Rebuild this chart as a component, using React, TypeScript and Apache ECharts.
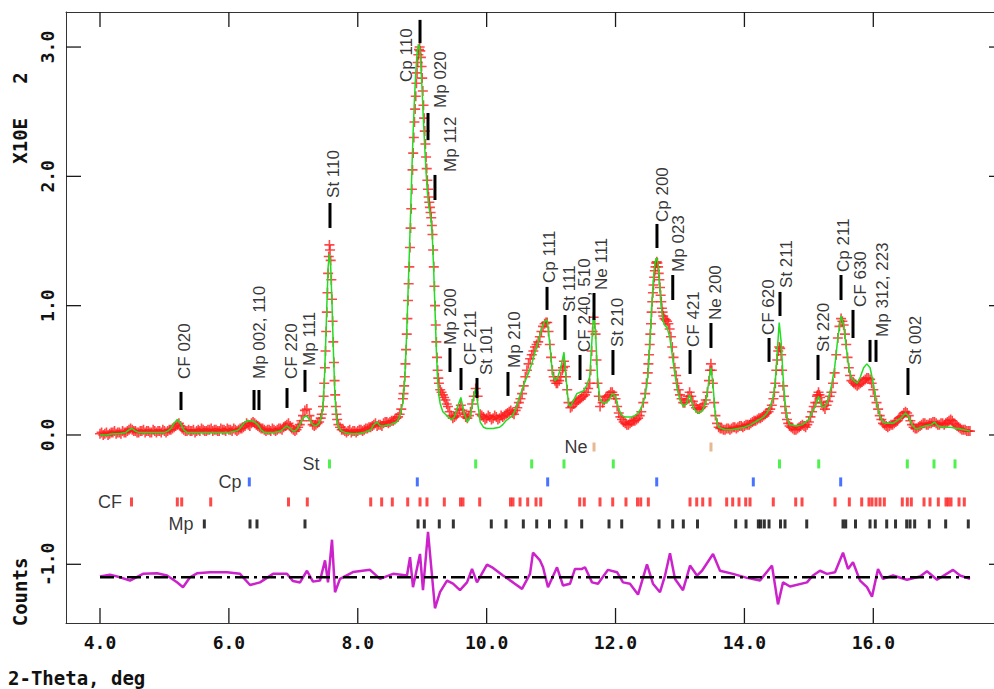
import React, { useEffect, useRef } from 'react';
import * as echarts from 'echarts';

// ---- observed intensities (2-theta, I x100 counts) ----
const obsData: number[][] = [
[4.00,0.01],[4.05,0.00],[4.10,0.02],[4.15,0.01],[4.20,0.02],[4.25,0.01],[4.30,0.02],[4.35,0.03],[4.40,0.02],[4.45,0.04],[4.50,0.04],[4.55,0.03],[4.60,0.02],[4.65,0.03],[4.70,0.02],[4.75,0.03],[4.80,0.02],[4.85,0.03],[4.90,0.03],[4.95,0.02],[5.00,0.03],[5.05,0.03],[5.10,0.04],[5.15,0.06],[5.20,0.08],[5.25,0.07],[5.30,0.04],[5.35,0.03],[5.40,0.03],[5.45,0.04],[5.50,0.03],[5.55,0.03],[5.60,0.04],[5.65,0.03],[5.70,0.04],[5.75,0.03],[5.80,0.04],[5.85,0.03],[5.90,0.04],[5.95,0.03],[6.00,0.04],[6.05,0.03],[6.10,0.04],[6.15,0.04],[6.20,0.05],[6.25,0.07],[6.30,0.08],[6.35,0.09],[6.40,0.09],[6.45,0.07],[6.50,0.05],[6.55,0.04],[6.60,0.04],[6.65,0.03],[6.70,0.04],[6.75,0.04],[6.80,0.05],[6.85,0.06],[6.90,0.08],[6.95,0.07],[7.00,0.04],[7.05,0.04],[7.10,0.08],[7.15,0.15],[7.18,0.19],[7.21,0.20],[7.25,0.15],[7.30,0.08],[7.35,0.08],[7.40,0.10],[7.44,0.16],[7.46,0.22],[7.48,0.40],[7.50,0.65],[7.52,0.95],[7.54,1.25],[7.56,1.47],[7.58,1.35],[7.60,1.05],[7.62,0.72],[7.64,0.42],[7.66,0.22],[7.68,0.12],[7.70,0.08],[7.75,0.04],[7.80,0.03],[7.85,0.03],[7.90,0.02],[7.95,0.03],[8.00,0.03],[8.05,0.04],[8.10,0.04],[8.15,0.05],[8.20,0.06],[8.25,0.08],[8.30,0.07],[8.35,0.08],[8.40,0.09],[8.45,0.10],[8.50,0.10],[8.55,0.11],[8.60,0.13],[8.65,0.16],[8.70,0.28],[8.72,0.38],[8.74,0.55],[8.76,0.78],[8.78,1.04],[8.80,1.30],[8.82,1.60],[8.84,1.90],[8.86,2.18],[8.88,2.42],[8.90,2.62],[8.92,2.80],[8.94,2.94],[8.96,3.00],[8.98,2.92],[9.00,2.76],[9.02,2.55],[9.04,2.35],[9.06,2.15],[9.08,1.97],[9.10,1.84],[9.12,1.76],[9.14,1.68],[9.16,1.55],[9.18,1.30],[9.20,1.00],[9.22,0.72],[9.24,0.50],[9.26,0.40],[9.28,0.35],[9.32,0.31],[9.36,0.27],[9.40,0.22],[9.45,0.15],[9.50,0.14],[9.55,0.17],[9.60,0.23],[9.65,0.16],[9.70,0.13],[9.75,0.18],[9.80,0.30],[9.83,0.36],[9.86,0.30],[9.90,0.16],[9.95,0.14],[10.00,0.13],[10.05,0.14],[10.10,0.13],[10.15,0.14],[10.20,0.13],[10.25,0.14],[10.30,0.16],[10.35,0.18],[10.40,0.17],[10.45,0.19],[10.50,0.25],[10.55,0.32],[10.60,0.45],[10.65,0.55],[10.70,0.62],[10.75,0.68],[10.80,0.72],[10.85,0.80],[10.90,0.86],[10.94,0.87],[10.98,0.70],[11.02,0.50],[11.06,0.42],[11.10,0.40],[11.15,0.45],[11.20,0.57],[11.23,0.45],[11.27,0.25],[11.30,0.21],[11.35,0.24],[11.40,0.26],[11.45,0.28],[11.50,0.30],[11.55,0.33],[11.60,0.40],[11.63,0.65],[11.66,0.91],[11.69,0.78],[11.72,0.40],[11.76,0.22],[11.80,0.25],[11.85,0.29],[11.90,0.31],[11.95,0.33],[12.00,0.28],[12.05,0.17],[12.10,0.12],[12.15,0.09],[12.20,0.08],[12.25,0.10],[12.30,0.11],[12.35,0.13],[12.40,0.18],[12.46,0.32],[12.50,0.48],[12.52,0.62],[12.54,0.78],[12.56,0.95],[12.58,1.10],[12.60,1.22],[12.62,1.30],[12.64,1.34],[12.66,1.30],[12.68,1.20],[12.70,1.08],[12.72,0.98],[12.74,0.92],[12.76,0.90],[12.78,0.89],[12.80,0.88],[12.84,0.82],[12.88,0.68],[12.92,0.52],[12.96,0.40],[13.00,0.31],[13.05,0.25],[13.10,0.27],[13.15,0.33],[13.20,0.26],[13.25,0.21],[13.30,0.20],[13.35,0.22],[13.40,0.27],[13.45,0.42],[13.48,0.55],[13.51,0.40],[13.55,0.15],[13.60,0.06],[13.65,0.05],[13.70,0.04],[13.75,0.05],[13.80,0.05],[13.85,0.06],[13.90,0.06],[13.95,0.07],[14.00,0.07],[14.05,0.08],[14.10,0.09],[14.15,0.11],[14.20,0.12],[14.25,0.13],[14.30,0.15],[14.35,0.17],[14.40,0.20],[14.45,0.28],[14.48,0.40],[14.51,0.58],[14.54,0.68],[14.57,0.62],[14.60,0.38],[14.63,0.22],[14.66,0.12],[14.70,0.07],[14.75,0.05],[14.80,0.04],[14.85,0.06],[14.90,0.08],[14.95,0.06],[15.00,0.10],[15.05,0.18],[15.10,0.25],[15.15,0.33],[15.20,0.25],[15.25,0.20],[15.30,0.26],[15.35,0.33],[15.40,0.48],[15.45,0.75],[15.50,0.90],[15.54,0.85],[15.58,0.70],[15.62,0.52],[15.66,0.42],[15.70,0.40],[15.75,0.38],[15.80,0.40],[15.85,0.42],[15.90,0.44],[15.95,0.43],[16.00,0.35],[16.05,0.25],[16.10,0.15],[16.15,0.09],[16.20,0.07],[16.25,0.07],[16.30,0.08],[16.35,0.10],[16.40,0.13],[16.45,0.15],[16.50,0.18],[16.55,0.15],[16.60,0.08],[16.65,0.05],[16.70,0.06],[16.75,0.08],[16.80,0.09],[16.85,0.08],[16.90,0.09],[16.95,0.10],[17.00,0.08],[17.05,0.09],[17.10,0.08],[17.15,0.10],[17.20,0.12],[17.25,0.09],[17.30,0.07],[17.35,0.05],[17.40,0.04],[17.45,0.03],[17.50,0.03]
];

// observed points read between the ones above (the data are dense)
const obsMidData: number[][] = [
[4.025,0.02],[4.075,0.01],[4.125,0.00],[4.175,0.02],[4.225,0.03],[4.275,0.02],[4.325,0.01],[4.375,0.02],[4.425,0.03],[4.475,0.05],[4.525,0.03],[4.575,0.02],[4.625,0.03],[4.675,0.04],[4.725,0.03],[4.775,0.02],[4.825,0.04],[4.875,0.02],[4.925,0.03],[4.975,0.04],[5.025,0.02],[5.075,0.04],[5.125,0.05],[5.175,0.07],[5.225,0.09],[5.275,0.05],[5.325,0.03],[5.375,0.04],[5.425,0.03],[5.475,0.02],[5.525,0.04],[5.575,0.05],[5.625,0.03],[5.675,0.04],[5.725,0.05],[5.775,0.04],[5.825,0.03],[5.875,0.05],[5.925,0.04],[5.975,0.05],[6.025,0.04],[6.075,0.05],[6.125,0.03],[6.175,0.05],[6.225,0.06],[6.275,0.09],[6.325,0.07],[6.375,0.10],[6.425,0.08],[6.475,0.06],[6.525,0.05],[6.575,0.03],[6.625,0.04],[6.675,0.05],[6.725,0.03],[6.775,0.05],[6.825,0.04],[6.875,0.07],[6.925,0.09],[6.975,0.05],[7.025,0.03],[7.075,0.06],[7.125,0.11],[7.275,0.11],[7.325,0.07],[7.375,0.09],[7.425,0.13],[7.47,0.30],[7.49,0.52],[7.51,0.80],[7.53,1.10],[7.55,1.38],[7.57,1.43],[7.59,1.20],[7.61,0.88],[7.63,0.56],[7.65,0.31],[7.67,0.16],[7.725,0.06],[7.775,0.04],[7.825,0.02],[7.875,0.04],[7.925,0.03],[7.975,0.02],[8.025,0.04],[8.075,0.03],[8.125,0.05],[8.175,0.06],[8.225,0.07],[8.275,0.09],[8.325,0.08],[8.375,0.07],[8.425,0.10],[8.475,0.09],[8.525,0.11],[8.575,0.12],[8.625,0.14],[8.675,0.20],[8.71,0.32],[8.73,0.45],[8.75,0.66],[8.77,0.90],[8.79,1.17],[8.81,1.45],[8.83,1.75],[8.85,2.05],[8.87,2.30],[8.89,2.52],[8.91,2.72],[8.93,2.88],[8.95,2.98],[8.97,2.97],[8.99,2.85],[9.01,2.66],[9.03,2.45],[9.05,2.25],[9.07,2.06],[9.09,1.90],[9.11,1.80],[9.13,1.72],[9.15,1.62],[9.17,1.43],[9.19,1.15],[9.21,0.85],[9.23,0.60],[9.25,0.44],[9.30,0.33],[9.34,0.29],[9.38,0.24],[9.425,0.18],[9.475,0.13],[9.525,0.15],[9.575,0.20],[9.625,0.19],[9.675,0.14],[9.725,0.15],[9.775,0.24],[9.925,0.15],[9.975,0.12],[10.025,0.15],[10.075,0.12],[10.125,0.15],[10.175,0.12],[10.225,0.15],[10.275,0.15],[10.325,0.17],[10.375,0.19],[10.425,0.16],[10.475,0.21],[10.525,0.28],[10.575,0.38],[10.625,0.50],[10.675,0.59],[10.725,0.65],[10.775,0.70],[10.825,0.76],[10.875,0.84],[10.92,0.87],[10.96,0.80],[11.00,0.60],[11.04,0.45],[11.08,0.40],[11.125,0.42],[11.175,0.50],[11.185,0.52],[11.215,0.53],[11.25,0.35],[11.325,0.22],[11.375,0.25],[11.425,0.27],[11.475,0.29],[11.525,0.31],[11.575,0.36],[11.615,0.50],[11.645,0.80],[11.675,0.86],[11.705,0.58],[11.74,0.30],[11.825,0.27],[11.875,0.30],[11.925,0.33],[11.975,0.31],[12.025,0.22],[12.075,0.14],[12.125,0.10],[12.175,0.08],[12.225,0.09],[12.275,0.11],[12.325,0.12],[12.375,0.15],[12.43,0.25],[12.48,0.40],[12.51,0.55],[12.53,0.70],[12.55,0.86],[12.57,1.03],[12.59,1.16],[12.61,1.27],[12.63,1.33],[12.65,1.33],[12.67,1.25],[12.69,1.14],[12.71,1.03],[12.73,0.95],[12.82,0.86],[12.86,0.76],[12.90,0.60],[12.94,0.46],[12.98,0.35],[13.025,0.28],[13.075,0.25],[13.125,0.30],[13.175,0.30],[13.225,0.23],[13.275,0.20],[13.325,0.21],[13.375,0.24],[13.425,0.33],[13.465,0.50],[13.495,0.50],[13.53,0.25],[13.575,0.09],[13.625,0.05],[13.675,0.04],[13.725,0.05],[13.775,0.04],[13.825,0.06],[13.875,0.05],[13.925,0.07],[13.975,0.06],[14.025,0.08],[14.075,0.08],[14.125,0.10],[14.175,0.11],[14.225,0.13],[14.275,0.14],[14.325,0.16],[14.375,0.18],[14.425,0.23],[14.465,0.33],[14.495,0.50],[14.525,0.65],[14.555,0.67],[14.585,0.50],[14.615,0.30],[14.645,0.17],[14.68,0.09],[14.725,0.06],[14.775,0.04],[14.825,0.05],[14.875,0.07],[14.925,0.07],[14.975,0.08],[15.025,0.14],[15.075,0.22],[15.125,0.30],[15.135,0.31],[15.165,0.31],[15.175,0.29],[15.225,0.22],[15.275,0.23],[15.325,0.30],[15.375,0.40],[15.425,0.62],[15.475,0.84],[15.52,0.88],[15.56,0.78],[15.60,0.60],[15.64,0.46],[15.685,0.41],[15.725,0.39],[15.775,0.39],[15.825,0.41],[15.875,0.43],[15.925,0.44],[15.975,0.40],[16.025,0.30],[16.075,0.20],[16.125,0.12],[16.175,0.08],[16.225,0.06],[16.275,0.08],[16.325,0.09],[16.375,0.11],[16.425,0.14],[16.475,0.17],[16.525,0.17],[16.575,0.11],[16.625,0.06],[16.675,0.05],[16.725,0.07],[16.775,0.09],[16.825,0.08],[16.875,0.09],[16.925,0.10],[16.975,0.09],[17.025,0.08],[17.075,0.09],[17.125,0.09],[17.175,0.11],[17.225,0.11],[17.275,0.08],[17.325,0.06],[17.375,0.04],[17.425,0.04],[17.475,0.03]
];

// ---- calculated profile ----
const calcData: number[][] = [
[4.00,0.00],[4.10,0.00],[4.20,0.01],[4.30,0.01],[4.40,0.02],[4.45,0.04],[4.50,0.05],[4.55,0.03],[4.60,0.02],[4.70,0.02],[4.80,0.02],[4.90,0.02],[5.00,0.02],[5.05,0.03],[5.10,0.05],[5.15,0.09],[5.20,0.12],[5.25,0.09],[5.30,0.04],[5.35,0.02],[5.40,0.02],[5.50,0.02],[5.60,0.02],[5.70,0.02],[5.80,0.02],[5.90,0.02],[6.00,0.02],[6.10,0.03],[6.15,0.04],[6.20,0.07],[6.25,0.10],[6.30,0.11],[6.35,0.11],[6.40,0.10],[6.45,0.08],[6.50,0.04],[6.55,0.02],[6.60,0.02],[6.70,0.02],[6.80,0.03],[6.85,0.05],[6.90,0.07],[6.95,0.05],[7.00,0.03],[7.05,0.04],[7.10,0.08],[7.15,0.13],[7.20,0.15],[7.25,0.12],[7.30,0.08],[7.35,0.07],[7.40,0.09],[7.44,0.15],[7.46,0.22],[7.48,0.40],[7.50,0.68],[7.52,1.00],[7.54,1.30],[7.56,1.40],[7.58,1.30],[7.60,1.02],[7.62,0.68],[7.64,0.38],[7.66,0.18],[7.68,0.10],[7.70,0.06],[7.75,0.03],[7.80,0.02],[7.90,0.01],[8.00,0.01],[8.10,0.02],[8.20,0.04],[8.25,0.08],[8.30,0.10],[8.35,0.07],[8.40,0.07],[8.50,0.08],[8.60,0.10],[8.65,0.14],[8.70,0.25],[8.72,0.36],[8.74,0.55],[8.76,0.80],[8.78,1.10],[8.80,1.40],[8.82,1.72],[8.84,2.05],[8.86,2.35],[8.88,2.60],[8.90,2.80],[8.92,2.95],[8.94,3.02],[8.96,3.00],[8.98,2.85],[9.00,2.65],[9.02,2.42],[9.04,2.22],[9.06,2.03],[9.08,1.88],[9.10,1.78],[9.12,1.72],[9.14,1.65],[9.16,1.50],[9.18,1.25],[9.20,0.95],[9.22,0.65],[9.24,0.42],[9.26,0.30],[9.28,0.24],[9.32,0.18],[9.36,0.16],[9.40,0.14],[9.45,0.12],[9.50,0.14],[9.55,0.22],[9.60,0.29],[9.65,0.17],[9.70,0.10],[9.75,0.15],[9.80,0.30],[9.83,0.36],[9.86,0.25],[9.90,0.10],[9.95,0.06],[10.00,0.05],[10.10,0.05],[10.20,0.06],[10.25,0.08],[10.30,0.11],[10.35,0.13],[10.40,0.15],[10.45,0.20],[10.50,0.28],[10.55,0.35],[10.60,0.42],[10.65,0.48],[10.70,0.55],[10.75,0.64],[10.80,0.72],[10.85,0.82],[10.90,0.88],[10.94,0.89],[10.98,0.70],[11.02,0.48],[11.06,0.42],[11.10,0.44],[11.15,0.52],[11.20,0.64],[11.23,0.45],[11.27,0.24],[11.30,0.22],[11.35,0.27],[11.40,0.32],[11.45,0.33],[11.50,0.34],[11.55,0.38],[11.60,0.45],[11.63,0.70],[11.66,0.95],[11.69,0.80],[11.72,0.45],[11.76,0.27],[11.80,0.25],[11.85,0.25],[11.90,0.27],[11.95,0.32],[12.00,0.30],[12.05,0.20],[12.10,0.15],[12.15,0.14],[12.20,0.14],[12.25,0.14],[12.30,0.15],[12.35,0.17],[12.40,0.21],[12.46,0.30],[12.50,0.45],[12.52,0.60],[12.54,0.78],[12.56,0.98],[12.58,1.15],[12.60,1.28],[12.62,1.35],[12.64,1.37],[12.66,1.32],[12.68,1.20],[12.70,1.05],[12.72,0.95],[12.74,0.88],[12.76,0.85],[12.78,0.84],[12.80,0.83],[12.84,0.76],[12.88,0.62],[12.92,0.47],[12.96,0.35],[13.00,0.27],[13.05,0.22],[13.10,0.24],[13.15,0.31],[13.20,0.22],[13.25,0.18],[13.30,0.17],[13.35,0.19],[13.40,0.25],[13.45,0.42],[13.48,0.52],[13.51,0.40],[13.55,0.15],[13.60,0.06],[13.70,0.04],[13.80,0.04],[13.90,0.05],[14.00,0.06],[14.10,0.08],[14.20,0.11],[14.30,0.14],[14.35,0.17],[14.40,0.22],[14.45,0.30],[14.48,0.42],[14.51,0.65],[14.54,0.87],[14.57,0.72],[14.60,0.45],[14.63,0.26],[14.66,0.14],[14.70,0.08],[14.80,0.07],[14.90,0.08],[15.00,0.12],[15.05,0.18],[15.10,0.22],[15.15,0.30],[15.20,0.22],[15.25,0.22],[15.30,0.28],[15.35,0.38],[15.40,0.52],[15.45,0.75],[15.50,0.92],[15.54,0.85],[15.58,0.68],[15.62,0.52],[15.66,0.44],[15.70,0.42],[15.75,0.40],[15.80,0.45],[15.85,0.52],[15.90,0.55],[15.95,0.52],[16.00,0.40],[16.05,0.25],[16.10,0.15],[16.15,0.10],[16.20,0.09],[16.30,0.09],[16.40,0.12],[16.45,0.14],[16.50,0.17],[16.55,0.14],[16.60,0.08],[16.65,0.05],[16.70,0.05],[16.80,0.07],[16.90,0.08],[16.95,0.10],[17.00,0.07],[17.10,0.06],[17.20,0.06],[17.30,0.05],[17.40,0.04],[17.50,0.03]
];

// ---- difference (obs - calc), drawn about a base line ----
const diffBase = -1.1;
const diffData: number[][] = [
[4.00,0.005],[4.155,0.02],[4.31,0],[4.466,-0.026],[4.667,0.026],[4.885,0.03],[5.04,0.013],[5.195,-0.039],[5.288,-0.077],[5.397,0],[5.505,0.03],[5.707,0.039],[5.971,0.039],[6.173,0.026],[6.328,-0.06],[6.483,-0.04],[6.685,0.026],[6.902,0.026],[6.995,-0.03],[7.104,-0.04],[7.212,0.05],[7.305,-0.034],[7.414,-0.026],[7.492,0.13],[7.538,-0.04],[7.60,0.29],[7.647,-0.116],[7.724,-0.013],[7.926,0.04],[8.19,0.057],[8.345,-0.013],[8.547,0.026],[8.764,0.013],[8.811,0.155],[8.857,-0.077],[8.966,0.18],[9.012,-0.10],[9.09,0.35],[9.198,-0.24],[9.276,-0.116],[9.385,-0.026],[9.478,-0.05],[9.586,-0.10],[9.695,-0.04],[9.773,0.064],[9.85,-0.04],[10.005,0.098],[10.099,0.072],[10.254,0.013],[10.409,-0.04],[10.549,-0.09],[10.673,0.026],[10.719,0.19],[10.828,0.13],[10.875,0.077],[10.952,-0.077],[11.092,0.077],[11.185,-0.064],[11.294,-0.05],[11.371,0.064],[11.48,0.064],[11.526,0.077],[11.635,-0.04],[11.728,-0.05],[11.883,0.057],[12.023,0.039],[12.116,-0.04],[12.224,-0.05],[12.349,-0.134],[12.488,0.10],[12.581,-0.05],[12.69,-0.116],[12.768,0.013],[12.845,0.186],[12.923,-0.013],[13.047,-0.10],[13.156,0.09],[13.264,0.013],[13.342,0.05],[13.513,0.18],[13.621,0.05],[13.823,0.026],[14.04,-0.005],[14.242,-0.026],[14.428,0.09],[14.521,-0.21],[14.599,-0.04],[14.707,-0.072],[14.971,-0.04],[15.064,0.013],[15.173,0.05],[15.282,0.026],[15.406,0.039],[15.53,0.19],[15.608,0.064],[15.685,0.116],[15.794,-0.026],[15.902,-0.077],[15.98,-0.15],[16.073,0.064],[16.15,-0.013],[16.306,0.013],[16.523,-0.02],[16.725,0.005],[16.833,0.046],[16.989,-0.02],[17.237,0.057],[17.346,0.013],[17.501,-0.013]
];

// ---- reflection positions per phase ----
const neRefl = [11.666, 13.481];
const stRefl = [7.561, 9.830, 10.699, 11.200, 11.965, 14.544, 15.153, 16.528, 16.942, 17.268];
const cpRefl = [6.317, 8.924, 10.947, 12.639, 14.138, 15.494];
const cfRefl = [4.489, 5.200, 5.268, 5.718, 6.925, 7.217, 8.201, 8.371, 8.536, 8.775, 8.966, 9.074, 9.343, 9.594, 9.633, 9.892, 10.370, 10.409, 10.518, 10.637, 10.766, 10.839, 11.444, 11.515, 11.759, 11.956, 12.162, 12.341, 12.391, 12.509, 13.156, 13.260, 13.353, 13.466, 13.725, 13.818, 13.916, 14.020, 14.087, 14.448, 14.796, 14.894, 15.406, 15.628, 15.820, 15.933, 15.980, 16.042, 16.104, 16.171, 16.450, 16.528, 16.590, 16.787, 16.880, 17.009, 17.128, 17.164, 17.206, 17.330, 17.412];
const mpRefl = [5.619, 6.328, 6.436, 7.181, 8.935, 9.033, 9.265, 9.483, 10.072, 10.300, 10.569, 10.777, 10.975, 11.231, 11.475, 11.899, 12.096, 12.675, 12.887, 13.052, 13.272, 13.865, 14.025, 14.216, 14.253, 14.309, 14.382, 14.560, 14.630, 14.967, 15.530, 15.572, 15.724, 15.949, 16.031, 16.208, 16.345, 16.518, 16.570, 16.642, 16.869, 17.123, 17.474];

const phaseNames = ['Ne', 'St', 'Cp', 'CF', 'Mp'];
const phaseLevels = [-0.093, -0.224, -0.363, -0.518, -0.688];
const phaseColors = ['#e0a878', '#22ee22', '#1a50ff', '#ff1a1a', '#000000'];
const phaseNameX = [11.387, 7.274, 6.017, 4.155, 5.257];

// ---- peak annotations ----
const peakText = ['CF 020', 'Mp 002, 110', 'CF 220', 'Mp 111', 'St 110', 'Cp 110', 'Mp 020', 'Mp 112', 'Mp 200', 'CF 211', 'St 101', 'Mp 210', 'Cp 111', 'St 111', 'CF 240, 510', 'Ne 111', 'St 210', 'Cp 200', 'Mp 023', 'CF 421', 'Ne 200', 'CF 620', 'St 211', 'St 220', 'Cp 211', 'CF 630', 'Mp 312, 223', 'St 002'];
const peakTextX = [5.307, 6.48, 6.967, 7.247, 7.619, 8.752, 9.28, 9.433, 9.433, 9.745, 9.993, 10.428, 10.971, 11.281, 11.514, 11.778, 12.026, 12.725, 12.973, 13.206, 13.547, 14.37, 14.65, 15.223, 15.533, 15.797, 16.138, 16.65];
const peakTextY = [0.433, 0.433, 0.433, 0.534, 1.833, 2.73, 2.529, 2.034, 0.696, 0.541, 0.464, 0.518, 1.176, 0.951, 0.642, 1.121, 0.681, 1.647, 1.261, 0.681, 0.889, 0.773, 1.137, 0.642, 1.261, 0.99, 0.758, 0.541];
const peakBars: number[][] = [
[5.257,0.193,0.333],[6.390,0.193,0.348],[6.467,0.193,0.348],[6.902,0.209,0.363],[7.181,0.333,0.503],[7.569,1.601,1.794],[8.966,3.03,3.21],[9.09,2.28,2.49],[9.198,1.817,2.011],[9.431,0.487,0.673],[9.602,0.348,0.518],[9.85,0.286,0.441],[10.331,0.302,0.487],[10.937,0.967,1.145],[11.216,0.735,0.928],[11.449,0.425,0.619],[11.666,0.889,1.098],[11.96,0.464,0.657],[12.643,1.446,1.632],[12.888,1.044,1.237],[13.156,0.472,0.657],[13.481,0.673,0.866],[14.382,0.565,0.750],[14.552,0.920,1.106],[15.142,0.425,0.619],[15.499,1.044,1.237],[15.685,0.75,0.967],[15.949,0.565,0.735],[16.042,0.565,0.735],[16.538,0.309,0.518]
];

const xTicks = [4, 6, 8, 10, 12, 14, 16];
const yTicks = [-1, 0, 1, 2, 3];
const X_MIN = 3.4724;
const X_MAX = 17.873;
const Y_MIN = -1.454;
const Y_MAX = 3.271;

const monoFont = 'DejaVu Sans Mono';
const sansFont = 'Liberation Sans';
const plusPath = 'path://M4.2,0H5.8V4.2H10V5.8H5.8V10H4.2V5.8H0V4.2H4.2Z';

export default function App() {
  const ref = useRef<HTMLDivElement>(null);
  useEffect(() => {
    document.body.style.margin = '0';
    const chart = echarts.init(ref.current as HTMLDivElement, null, { renderer: 'svg' });
    const fmt = (v: number) => v.toFixed(1);
    const axisLineStyle = { color: '#333', width: 1 };

    const reflSeries = [neRefl, stRefl, cpRefl, cfRefl, mpRefl].map((arr, i) => ({
      type: 'scatter',
      silent: true,
      symbol: 'rect',
      symbolSize: [3, 9],
      itemStyle: { color: phaseColors[i] },
      data: arr.map((x) => [x, phaseLevels[i]]),
      z: 3,
    }));

    const titleGraphics: any[] = [
      { type: 'text', x: 8, y: 678, style: { text: '2-Theta, deg', font: `bold 19px "${monoFont}"`, fill: '#111', textAlign: 'left', textVerticalAlign: 'middle' } },
      { type: 'text', x: 20, y: 118, rotation: Math.PI / 2, style: { text: 'X10E   2', font: `bold 19px "${monoFont}"`, fill: '#111', textAlign: 'center', textVerticalAlign: 'middle' } },
      { type: 'text', x: 20, y: 592, rotation: Math.PI / 2, style: { text: 'Counts', font: `bold 19px "${monoFont}"`, fill: '#111', textAlign: 'center', textVerticalAlign: 'middle' } },
    ];

    const option: any = {
      animation: false,
      backgroundColor: '#ffffff',
      grid: { left: 66, right: 0, top: 12, bottom: 66, containLabel: false },
      xAxis: [
        {
          type: 'value', min: X_MIN, max: X_MAX, position: 'bottom',
          axisLine: { show: true, onZero: false, lineStyle: axisLineStyle },
          axisTick: { show: false },
          axisLabel: { show: true, customValues: xTicks, formatter: fmt, margin: 10, fontFamily: monoFont, fontWeight: 'bold', fontSize: 18, color: '#111' },
          splitLine: { show: false },
        },
        {
          type: 'value', min: X_MIN, max: X_MAX, position: 'top',
          axisLine: { show: true, onZero: false, lineStyle: axisLineStyle },
          axisTick: { show: false },
          axisLabel: { show: false },
          splitLine: { show: false },
        },
      ],
      yAxis: [
        {
          type: 'value', min: Y_MIN, max: Y_MAX, position: 'left',
          axisLine: { show: true, onZero: false, lineStyle: axisLineStyle },
          axisTick: { show: false },
          axisLabel: { show: true, customValues: yTicks, formatter: fmt, rotate: 90, margin: 10, fontFamily: monoFont, fontWeight: 'bold', fontSize: 18, color: '#111' },
          splitLine: { show: false },
        },
      ],
      graphic: titleGraphics,
      series: [
        {
          type: 'scatter', name: 'Obs', silent: true, symbol: plusPath, symbolSize: 10,
          itemStyle: { color: '#ff1a1a' }, data: obsData.concat(obsMidData), z: 2,
        },
        {
          type: 'line', name: 'Calc', silent: true, showSymbol: false, symbol: 'none',
          lineStyle: { color: '#22dd22', width: 1.5 }, data: calcData, z: 4,
        },
        {
          type: 'line', name: 'Diff', silent: true, showSymbol: false, symbol: 'none',
          lineStyle: { color: '#cc22cc', width: 2.5 },
          data: diffData.map((d) => [d[0], diffBase + d[1]]), z: 4,
        },
        {
          type: 'line', name: 'Base', silent: true, showSymbol: false, symbol: 'none',
          lineStyle: { color: '#000', width: 2.5, type: [14, 5, 3, 5] },
          data: [[4.0, diffBase], [17.5, diffBase]], z: 5,
        },
        ...reflSeries,
        {
          type: 'scatter', silent: true, symbolSize: 1, itemStyle: { color: 'rgba(0,0,0,0)' },
          data: phaseNames.map((n, i) => ({ name: n, value: [phaseNameX[i], phaseLevels[i]] })),
          label: { show: true, formatter: '{b}', position: 'inside', align: 'center', verticalAlign: 'middle', fontFamily: sansFont, fontSize: 18, color: '#000' },
          z: 6,
        },
        {
          type: 'custom', silent: true, data: peakBars, encode: { x: 0, y: [1, 2] },
          renderItem: (params: any, api: any) => {
            const a = api.coord([api.value(0), api.value(1)]);
            const b = api.coord([api.value(0), api.value(2)]);
            return { type: 'line', shape: { x1: a[0], y1: a[1], x2: b[0], y2: b[1] }, style: { stroke: '#000', lineWidth: 3 } };
          },
          z: 6,
        },
        {
          type: 'scatter', silent: true, symbolSize: 1, itemStyle: { color: 'rgba(0,0,0,0)' },
          data: peakText.map((t, i) => ({ name: t, value: [peakTextX[i], peakTextY[i]] })),
          label: { show: true, formatter: '{b}', position: 'inside', rotate: 90, align: 'left', verticalAlign: 'middle', fontFamily: sansFont, fontSize: 17, color: '#000' },
          z: 7,
        },
      ],
    };
    chart.setOption(option);

    // inward frame ticks, positioned through the axes' own scales
    const tickGraphics: any[] = [];
    const yBottom = chart.convertToPixel({ yAxisIndex: 0 }, Y_MIN) as number;
    const yTop = chart.convertToPixel({ yAxisIndex: 0 }, Y_MAX) as number;
    const xLeft = chart.convertToPixel({ xAxisIndex: 0 }, X_MIN) as number;
    const xRight = chart.convertToPixel({ xAxisIndex: 0 }, X_MAX) as number;
    const tickStyle = { stroke: '#1a1a1a', lineWidth: 1.3 };
    xTicks.forEach((v) => {
      const px = chart.convertToPixel({ xAxisIndex: 0 }, v) as number;
      tickGraphics.push({ type: 'line', z: 100, shape: { x1: px, y1: yBottom, x2: px, y2: yBottom - 15 }, style: { ...tickStyle } });
      tickGraphics.push({ type: 'line', z: 100, shape: { x1: px, y1: yTop, x2: px, y2: yTop + 15 }, style: { ...tickStyle } });
    });
    yTicks.forEach((v) => {
      const py = chart.convertToPixel({ yAxisIndex: 0 }, v) as number;
      tickGraphics.push({ type: 'line', z: 100, shape: { x1: xLeft, y1: py, x2: xLeft + 15, y2: py }, style: { ...tickStyle } });
      tickGraphics.push({ type: 'line', z: 100, shape: { x1: xRight, y1: py, x2: xRight - 5, y2: py }, style: { ...tickStyle } });
    });
    chart.setOption({ graphic: titleGraphics.concat(tickGraphics) });

    return () => chart.dispose();
  }, []);
  return <div ref={ref} style={{ width: 994, height: 689 }} />;
}
